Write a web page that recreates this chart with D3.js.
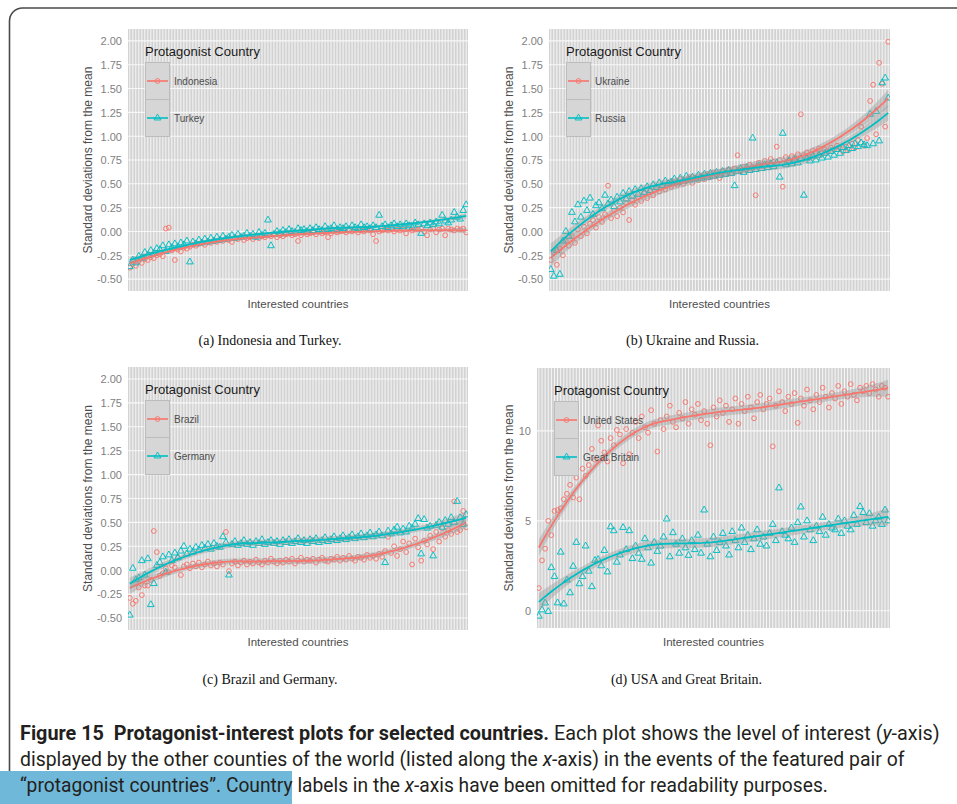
<!DOCTYPE html>
<html>
<head>
<meta charset="utf-8">
<script src="https://cdn.jsdelivr.net/npm/d3@7"></script>
<style>
  body { margin: 0; background: #fff; }
  svg { display: block; }
</style>
</head>
<body>
<svg id="fig" width="957" height="804"></svg>
<script>
// Interest level (standard deviations from the mean) shown by each interested country,
// countries ordered along the x-axis (names omitted).
const indonesia = [
  -0.38,-0.34,-0.36,-0.31,-0.33,-0.29,-0.30,-0.27,-0.28,-0.25,
  -0.24,-0.26, 0.03, 0.04,-0.20,-0.30,-0.19,-0.21,-0.17,-0.18,
  -0.16,-0.14,-0.15,-0.13,-0.12,-0.14,-0.11,-0.12,-0.10,-0.11,
  -0.09,-0.10,-0.08,-0.09,-0.11,-0.07,-0.08,-0.06,-0.09,-0.07,
  -0.06,-0.08,-0.05,-0.07,-0.05,-0.06,-0.04,-0.05,-0.03,-0.06,
  -0.04,-0.05,-0.03,-0.02,-0.04,-0.03,-0.10,-0.04,-0.01,-0.03,
  -0.02,-0.01,-0.03, 0.00,-0.02,-0.01,-0.06,-0.02, 0.01,-0.01,
   0.00, 0.01,-0.01, 0.01, 0.00, 0.02,-0.01, 0.01, 0.00, 0.02,
   0.01,-0.03,-0.10, 0.00, 0.01, 0.02, 0.01, 0.03, 0.00, 0.02,
   0.01, 0.02,-0.02, 0.03, 0.01, 0.02, 0.02, 0.03, 0.00,-0.04,
   0.02, 0.03,-0.01, 0.02, 0.03,-0.04, 0.03, 0.02, 0.01, 0.03,
   0.02, 0.03,-0.01
];
const turkey = [
  -0.37,-0.30,-0.33,-0.26,-0.28,-0.22,-0.25,-0.20,-0.23,-0.18,
  -0.19,-0.15,-0.21,-0.14,-0.17,-0.13,-0.16,-0.12,-0.14,-0.10,
  -0.32,-0.11,-0.13,-0.09,-0.12,-0.08,-0.11,-0.07,-0.10,-0.06,
  -0.09,-0.05,-0.08,-0.06,-0.04,-0.07,-0.03,-0.06,-0.05,-0.02,
  -0.05,-0.03,-0.06,-0.01,-0.04,-0.02, 0.12,-0.15,-0.03, 0.00,
  -0.02, 0.01,-0.01, 0.02, 0.00,-0.01, 0.03, 0.01, 0.02, 0.00,
   0.03, 0.01, 0.04, 0.02, 0.01, 0.05, 0.02, 0.03, 0.06, 0.02,
   0.04, 0.03, 0.05, 0.02, 0.06, 0.04, 0.03, 0.07, 0.04, 0.05,
   0.03, 0.06, 0.04, 0.17, 0.05, 0.07, 0.04, 0.06, 0.08, 0.05,
   0.07, 0.05, 0.08, 0.06, 0.04, 0.09, 0.07,-0.02, 0.08, 0.06,
   0.09, 0.07, 0.10, 0.08, 0.17, 0.11, 0.09, 0.12, 0.20, 0.15,
   0.13, 0.22, 0.28
];
const ukraine = [
  -0.30,-0.22,-0.35,-0.18,-0.25,-0.10,-0.15,-0.05,-0.12, 0.02,
  -0.05, 0.05,-0.02, 0.08, 0.12, 0.04, 0.15, 0.10, 0.18, 0.48,
   0.14, 0.22, 0.16, 0.25, 0.20, 0.30, 0.12, 0.33, 0.28, 0.36,
   0.32, 0.40, 0.35, 0.43, 0.38, 0.46, 0.42, 0.48, 0.44, 0.51,
   0.47, 0.52, 0.49, 0.55, 0.50, 0.53, 0.57, 0.51, 0.56, 0.54,
   0.58, 0.55, 0.60, 0.57, 0.62, 0.59, 0.56, 0.63, 0.60, 0.65,
   0.61, 0.66, 0.80, 0.63, 0.68, 0.65, 0.70, 0.67, 0.38, 0.72,
   0.69, 0.74, 0.71, 0.76, 0.73, 0.89, 0.75, 0.47, 0.78, 0.74,
   0.79, 0.77, 0.81, 1.23, 0.80, 0.83, 0.78, 0.85, 0.82, 0.87,
   0.82, 0.86, 0.84, 0.88, 0.86, 0.90, 0.87, 0.84, 0.89, 0.86,
   0.92, 0.88, 0.96, 1.10, 0.90, 0.98, 1.37, 1.54, 1.02, 1.77,
   1.55, 1.10, 1.99
];
const russia = [
  -0.40,-0.47,-0.20,-0.45,-0.10, 0.00,-0.05, 0.20, 0.10, 0.28,
   0.15, 0.32, 0.22, 0.35, 0.18, 0.27, 0.30, 0.24, 0.38, 0.29,
   0.33, 0.26, 0.36, 0.31, 0.40, 0.34, 0.42, 0.37, 0.44, 0.39,
   0.45, 0.41, 0.47, 0.43, 0.49, 0.46, 0.51, 0.48, 0.53, 0.50,
   0.52, 0.55, 0.51, 0.56, 0.53, 0.58, 0.54, 0.57, 0.55, 0.59,
   0.56, 0.60, 0.57, 0.61, 0.58, 0.62, 0.59, 0.63, 0.60, 0.64,
   0.61, 0.48, 0.63, 0.66, 0.62, 0.67, 0.64, 0.98, 0.65, 0.69,
   0.66, 0.70, 0.67, 0.71, 0.68, 0.72, 0.57, 1.03, 0.70, 0.74,
   0.71, 0.75, 0.72, 0.76, 0.38, 0.77, 0.74, 0.79, 0.75, 0.80,
   0.77, 0.82, 0.78, 0.84, 0.80, 0.86, 0.82, 0.88, 0.85, 0.90,
   0.87, 0.92, 0.89, 0.93, 0.91, 0.90, 1.23, 0.92, 1.26, 0.95,
   1.56, 1.61, 1.40
];
const brazil = [
  -0.29,-0.35,-0.32,-0.18,-0.26,-0.16,-0.16,-0.10, 0.41, 0.19,
  -0.06,-0.03, 0.02,-0.02, 0.05, 0.03, 0.13,-0.05, 0.04, 0.06,
   0.02, 0.07, 0.04, 0.08, 0.03, 0.06, 0.09, 0.05, 0.07, 0.04,
   0.08, 0.06, 0.40,-0.01, 0.07, 0.09, 0.05, 0.08, 0.10, 0.06,
   0.09, 0.07, 0.11, 0.08, 0.06, 0.10, 0.08, 0.12, 0.09, 0.07,
   0.10, 0.08, 0.11, 0.09, 0.12, 0.07, 0.10, 0.13, 0.09, 0.11,
   0.10, 0.12, 0.08, 0.11, 0.13, 0.10, 0.09, 0.12, 0.11, 0.14,
   0.10, 0.13, 0.11, 0.15, 0.12, 0.10, 0.14, 0.13, 0.11, 0.16,
   0.13, 0.15, 0.12, 0.17, 0.14, 0.20, 0.35, 0.18, 0.25, 0.15,
   0.22, 0.30, 0.19, 0.28, 0.06, 0.33, 0.24, 0.10, 0.31, 0.27,
   0.36, 0.22, 0.40, 0.30, 0.44, 0.35, 0.42, 0.38, 0.72, 0.40,
   0.42, 0.62, 0.45
];
const germany = [
  -0.47, 0.02,-0.10,-0.08, 0.10,-0.05, 0.12,-0.36,-0.14, 0.05,
   0.08, 0.14,-0.02, 0.16, 0.10, 0.18, 0.13, 0.20, 0.25, 0.17,
   0.22, 0.19, 0.24, 0.21, 0.26, 0.23, 0.27, 0.22, 0.28, 0.25,
   0.24, 0.35, 0.29,-0.05, 0.27, 0.30, 0.26, 0.28, 0.31, 0.27,
   0.29, 0.26, 0.30, 0.28, 0.32, 0.27, 0.29, 0.31, 0.28, 0.30,
   0.27, 0.31, 0.29, 0.32, 0.28, 0.30, 0.33, 0.29, 0.31, 0.28,
   0.32, 0.30, 0.33, 0.29, 0.31, 0.34, 0.30, 0.32, 0.35, 0.31,
   0.33, 0.36, 0.32, 0.34, 0.37, 0.33, 0.35, 0.38, 0.34, 0.36,
   0.39, 0.35, 0.37, 0.40, 0.36, 0.08, 0.41, 0.38, 0.42, 0.45,
   0.39, 0.43, 0.40, 0.46, 0.44, 0.48, 0.54, 0.17, 0.53, 0.44,
   0.46, 0.15, 0.47, 0.50, 0.45, 0.52, 0.48, 0.55, 0.50, 0.72,
   0.55, 0.48, 0.58
];
const unitedStates = [
   1.26, 2.80, 3.45, 5.00, 4.20, 5.55, 5.60, 5.70, 6.20, 6.50,
   7.00, 6.30, 7.40, 6.20, 7.90, 7.50, 8.10, 9.00, 8.40,10.30,
   9.45, 8.80, 8.30, 9.60, 9.20,10.05, 9.80, 8.20,10.10, 8.70,
   9.90,10.50, 9.60,10.80,10.20, 9.90,11.15,10.40, 8.85,10.60,
  10.10,10.80,11.40,10.50,10.20,11.00,10.70,11.60,10.40,11.20,
  10.90,11.50,10.60,11.10,10.40, 9.20,11.30,10.80,11.70,11.00,
  11.40,10.50,11.20,11.80,10.40,11.50,11.10,11.90,11.30,10.70,
  11.60,12.00,11.20,11.50,11.80, 9.14,11.40,12.20,11.60,11.10,
  11.90,11.50,12.10,10.45,11.80,11.40,12.30,11.70,11.20,12.00,
  11.60,12.40,11.90,11.30,12.10,11.80,12.50,11.50,12.20,11.90,
  12.60,12.00,11.70,12.40,12.20,12.50,12.10,12.60,12.30,11.90,
  12.50,12.40,11.90
];
const greatBritain = [
  -0.30, 0.05, 0.43,-0.04, 2.40, 1.90, 0.44, 3.26, 0.38, 1.70,
   1.00, 2.47, 3.80, 1.50, 1.90, 3.60, 2.20, 1.34, 2.80, 2.85,
   2.50, 3.35, 2.16, 4.67, 4.45, 2.70, 3.10, 4.63, 3.40, 4.45,
   2.90, 3.60, 3.20, 2.86, 4.00, 3.50, 2.65, 3.80, 3.30, 3.60,
   4.10, 5.10, 3.00, 4.34, 3.70, 3.20, 4.00, 3.50, 3.08, 3.90,
   3.40, 4.20, 3.20, 5.60, 3.70, 3.00, 4.10, 3.35, 3.80, 4.30,
   3.60, 3.10, 4.40, 3.90, 3.50, 4.60, 3.80, 4.20, 3.40, 4.00,
   4.50, 3.70, 4.10, 3.60, 4.30, 4.80, 3.90, 6.83, 4.40, 4.20,
   4.00, 4.60, 3.80, 4.90, 5.77, 4.10, 5.00, 4.50, 3.90, 4.70,
   4.40, 5.20, 4.20, 4.80, 4.60, 4.50, 5.10, 4.30, 5.00, 4.70,
   4.50, 5.30, 4.80, 5.79, 5.46, 4.90, 5.40, 4.70, 5.00, 5.20,
   4.80, 5.60, 5.00
];

const sdTicks = [-0.5, -0.25, 0, 0.25, 0.5, 0.75, 1, 1.25, 1.5, 1.75, 2];
const usTicks = [0, 5, 10];
const sdLimits = [-0.5, 2];

const nCountries = indonesia.length;
const categories = d3.range(nCountries).map(i => "country-" + (i + 1));

const RED = "#F8766D", TEAL = "#00BFC4";
const SANS = "'Liberation Sans', Arial, Helvetica, sans-serif";

const panels = [
  { series: [{ name: "Indonesia", values: indonesia }, { name: "Turkey", values: turkey }],
    caption: "(a) Indonesia and Turkey.", box: { l: 128, r: 468, t: 29, b: 291 },
    ticks: sdTicks, limits: sdLimits, ytitleX: 88, tickRight: 122, row: 0 },
  { series: [{ name: "Ukraine", values: ukraine }, { name: "Russia", values: russia }],
    caption: "(b) Ukraine and Russia.", box: { l: 549, r: 890, t: 29, b: 291 },
    ticks: sdTicks, limits: sdLimits, ytitleX: 509, tickRight: 543, row: 0 },
  { series: [{ name: "Brazil", values: brazil }, { name: "Germany", values: germany }],
    caption: "(c) Brazil and Germany.", box: { l: 128, r: 468, t: 367, b: 630 },
    ticks: sdTicks, limits: sdLimits, ytitleX: 88, tickRight: 122, row: 1 },
  { series: [{ name: "United States", values: unitedStates }, { name: "Great Britain", values: greatBritain }],
    caption: "(d) USA and Great Britain.", box: { l: 537, r: 890, t: 368, b: 628 },
    ticks: usTicks, limits: null, ytitleX: 509, tickRight: 531, row: 1 }
];
const rowLayout = [{ xtitle: 308, caption: 345 }, { xtitle: 646, caption: 684 }];

// ---- local quadratic loess (span 0.75, tricube weights) with standard errors ----
function solve3(M) {
  const [a, b, c] = M[0], [d, e, f] = M[1], [g, h, k] = M[2];
  const A = e * k - f * h, B = -(d * k - f * g), C = d * h - e * g;
  const det = a * A + b * B + c * C;
  return [
    [A / det, -(b * k - c * h) / det, (b * f - c * e) / det],
    [B / det, (a * k - c * g) / det, -(a * f - c * d) / det],
    [C / det, -(a * h - b * g) / det, (a * e - b * d) / det]
  ];
}
function loessWeights(xs, x0, span) {
  const n = xs.length, q = Math.floor(n * span);
  const dist = xs.map(x => Math.abs(x - x0));
  const h = dist.slice().sort((p, s) => p - s)[q - 1];
  const w = dist.map(dd => { const u = dd / h; return u < 1 ? Math.pow(1 - u * u * u, 3) : 0; });
  const M = [[0, 0, 0], [0, 0, 0], [0, 0, 0]];
  const basis = xs.map(x => { const t = (x - x0) / h; return [1, t, t * t]; });
  basis.forEach((bv, i) => {
    for (let r = 0; r < 3; r++) for (let c = 0; c < 3; c++) M[r][c] += w[i] * bv[r] * bv[c];
  });
  const Mi = solve3(M);
  return basis.map((bv, i) => w[i] * (Mi[0][0] * bv[0] + Mi[0][1] * bv[1] + Mi[0][2] * bv[2]));
}
function loessFit(ys, nEval = 80, span = 0.75) {
  const n = ys.length, xs = d3.range(n);
  const L = xs.map(x0 => loessWeights(xs, x0, span));
  const fitted = L.map(l => d3.sum(l, (v, j) => v * ys[j]));
  const rss = d3.sum(ys, (y, i) => (y - fitted[i]) ** 2);
  let delta1 = 0;
  for (let i = 0; i < n; i++) for (let j = 0; j < n; j++) {
    const v = (i === j ? 1 : 0) - L[i][j];
    delta1 += v * v;
  }
  const sigma = Math.sqrt(rss / delta1);
  const tq = 1.98;
  return d3.range(nEval).map(k => {
    const x0 = (n - 1) * k / (nEval - 1);
    const l = loessWeights(xs, x0, span);
    const f = d3.sum(l, (v, j) => v * ys[j]);
    const se = sigma * Math.sqrt(d3.sum(l, v => v * v));
    return { x: x0, y: f, lo: f - tq * se, hi: f + tq * se };
  });
}

const svg = d3.select("#fig");

// page frame with a rounded top-left corner
svg.append("path")
  .attr("d", "M9.5,772 V21 A13,13 0 0 1 22.5,8 H957")
  .attr("fill", "none").attr("stroke", "#4a4a4a").attr("stroke-width", 1.6);

const defs = svg.append("defs");

panels.forEach((p, pi) => {
  const { l, r, t, b } = p.box;
  const rowPos = rowLayout[p.row];
  const x = d3.scalePoint().domain(categories).range([l, r]).padding(0.6);
  const xLin = d3.scaleLinear().domain([0, nCountries - 1])
    .range([x(categories[0]), x(categories[nCountries - 1])]);

  const fits = p.series.map(s => loessFit(s.values));

  let yDomain;
  if (p.limits) {
    const span = p.limits[1] - p.limits[0];
    yDomain = [p.limits[0] - 0.05 * span, p.limits[1] + 0.05 * span];
  } else {
    const lo = d3.min([d3.min(p.series, s => d3.min(s.values)), d3.min(fits, f => d3.min(f, d => d.lo))]);
    const hi = d3.max([d3.max(p.series, s => d3.max(s.values)), d3.max(fits, f => d3.max(f, d => d.hi))]);
    yDomain = [lo - 0.05 * (hi - lo), hi + 0.05 * (hi - lo)];
  }
  const y = d3.scaleLinear().domain(yDomain).range([b, t]);

  const g = svg.append("g");
  const clipId = "clip" + pi;
  defs.append("clipPath").attr("id", clipId)
    .append("rect").attr("x", l).attr("y", t).attr("width", r - l).attr("height", b - t);

  // panel background and grid
  g.append("rect").attr("x", l).attr("y", t).attr("width", r - l).attr("height", b - t)
    .attr("fill", "#d2d2d2");
  g.append("g").selectAll("line").data(p.ticks).join("line")
    .attr("x1", l).attr("x2", r).attr("y1", d => y(d)).attr("y2", d => y(d))
    .attr("stroke", "#f7f7f7").attr("stroke-width", 1.1);
  g.append("g").selectAll("line").data(categories).join("line")
    .attr("x1", d => x(d)).attr("x2", d => x(d)).attr("y1", t).attr("y2", b)
    .attr("stroke", "#f7f7f7").attr("stroke-width", 1);

  // y-axis labels
  const yAxis = d3.axisLeft(y).tickValues(p.ticks).tickSize(0).tickPadding(0)
    .tickFormat(p.limits ? (d => d3.format(".2f")(d).replace("\u2212", "-")) : d3.format("d"));
  const ax = g.append("g").attr("transform", `translate(${p.tickRight},0)`).call(yAxis);
  ax.select(".domain").remove();
  ax.selectAll("text").attr("fill", "#7f7f7f").attr("font-size", 11).attr("font-family", SANS)
    .attr("dy", "0.35em");

  // axis titles
  g.append("text")
    .attr("transform", `translate(${p.ytitleX},${(t + b) / 2}) rotate(-90)`)
    .attr("text-anchor", "middle").attr("dy", "0.35em")
    .attr("font-family", SANS).attr("font-size", 12).attr("fill", "#4d4d4d")
    .text("Standard deviations from the mean");
  g.append("text")
    .attr("x", (l + r) / 2).attr("y", rowPos.xtitle)
    .attr("text-anchor", "middle")
    .attr("font-family", SANS).attr("font-size", 11.5).attr("fill", "#4d4d4d")
    .text("Interested countries");

  // sub-figure caption
  g.append("text")
    .attr("x", (l + r) / 2 + (pi % 2 === 0 ? -28 : -27)).attr("y", rowPos.caption)
    .attr("text-anchor", "middle")
    .attr("font-family", "'Liberation Serif', 'Times New Roman', serif").attr("font-size", 14)
    .attr("fill", "#111")
    .text(p.caption);

  const plot = g.append("g").attr("clip-path", `url(#${clipId})`);
  const colors = [RED, TEAL];

  // scatter points: open circles and open triangles
  p.series.forEach((s, si) => {
    const pts = plot.append("g").attr("fill", "none").attr("stroke", colors[si]).attr("stroke-width", 0.95);
    if (si === 0) {
      pts.selectAll("circle").data(s.values).join("circle")
        .attr("cx", (d, i) => x(categories[i])).attr("cy", d => y(d)).attr("r", 2.4);
    } else {
      const tri = d3.symbol(d3.symbolTriangle, 20);
      pts.selectAll("path").data(s.values).join("path")
        .attr("transform", (d, i) => `translate(${x(categories[i])},${y(d)})`)
        .attr("d", tri);
    }
  });

  // smoothed trends with confidence bands
  fits.forEach((f, si) => {
    plot.append("path").datum(f)
      .attr("d", d3.area().x(d => xLin(d.x)).y0(d => y(d.lo)).y1(d => y(d.hi)))
      .attr("fill", "#999999").attr("fill-opacity", 0.4);
    plot.append("path").datum(f)
      .attr("d", d3.line().x(d => xLin(d.x)).y(d => y(d.y)))
      .attr("fill", "none").attr("stroke", colors[si]).attr("stroke-width", 1.8);
  });

  // legend
  const lg = g.append("g").attr("transform", `translate(${l + 17},${t})`);
  lg.append("text").attr("x", 0).attr("y", 27)
    .attr("font-family", SANS).attr("font-size", 13).attr("fill", "#1a1a1a")
    .text("Protagonist Country");
  p.series.forEach((s, si) => {
    const ky = 33 + si * 37;
    lg.append("rect").attr("x", 0.5).attr("y", ky + 0.5).attr("width", 24).attr("height", 37)
      .attr("fill", "#d6d6d6").attr("stroke", "#bcbcbc").attr("stroke-width", 1);
    lg.append("line").attr("x1", 2).attr("x2", 23).attr("y1", ky + 19).attr("y2", ky + 19)
      .attr("stroke", colors[si]).attr("stroke-width", 1.6);
    if (si === 0) {
      lg.append("circle").attr("cx", 12.5).attr("cy", ky + 19).attr("r", 2.4)
        .attr("fill", "none").attr("stroke", colors[si]).attr("stroke-width", 0.95);
    } else {
      lg.append("path").attr("transform", `translate(12.5,${ky + 19})`)
        .attr("d", d3.symbol(d3.symbolTriangle, 20))
        .attr("fill", "none").attr("stroke", colors[si]).attr("stroke-width", 0.95);
    }
    lg.append("text").attr("x", 29).attr("y", ky + 19).attr("dy", "0.35em")
      .attr("font-family", SANS).attr("font-size", 10).attr("fill", "#4d4d4d")
      .text(s.name);
  });
});

// figure caption
svg.append("rect").attr("x", 0).attr("y", 771).attr("width", 292).attr("height", 33)
  .attr("fill", "#6fb8d9");

const CAP = "Roboto, 'Open Sans', sans-serif";
const capLines = [
  { y: 740, w: 920, parts: [
      { t: "Figure 15  Protagonist-interest plots for selected countries.", b: true },
      { t: " Each plot shows the level of interest (" }, { t: "y", i: true }, { t: "-axis)" }] },
  { y: 766, w: 885, parts: [
      { t: "displayed by the other counties of the world (listed along the " }, { t: "x", i: true },
      { t: "-axis) in the events of the featured pair of" }] },
  { y: 792, w: 808, parts: [
      { t: "\u201Cprotagonist countries\u201D. Country labels in the " }, { t: "x", i: true },
      { t: "-axis have been omitted for readability purposes." }] }
];
capLines.forEach(line => {
  const tx = svg.append("text").attr("x", 0).attr("y", 0)
    .attr("font-family", CAP).attr("font-size", 20).attr("fill", "#231f20")
    .attr("xml:space", "preserve");
  line.parts.forEach(pt => {
    tx.append("tspan").text(pt.t)
      .attr("font-weight", pt.b ? "bold" : null)
      .attr("font-style", pt.i ? "italic" : null);
  });
  // condense the line horizontally to the text block width
  const natural = tx.node().getComputedTextLength();
  tx.attr("transform", `translate(20,${line.y}) scale(${line.w / natural},1)`);
});
</script>
</body>
</html>
